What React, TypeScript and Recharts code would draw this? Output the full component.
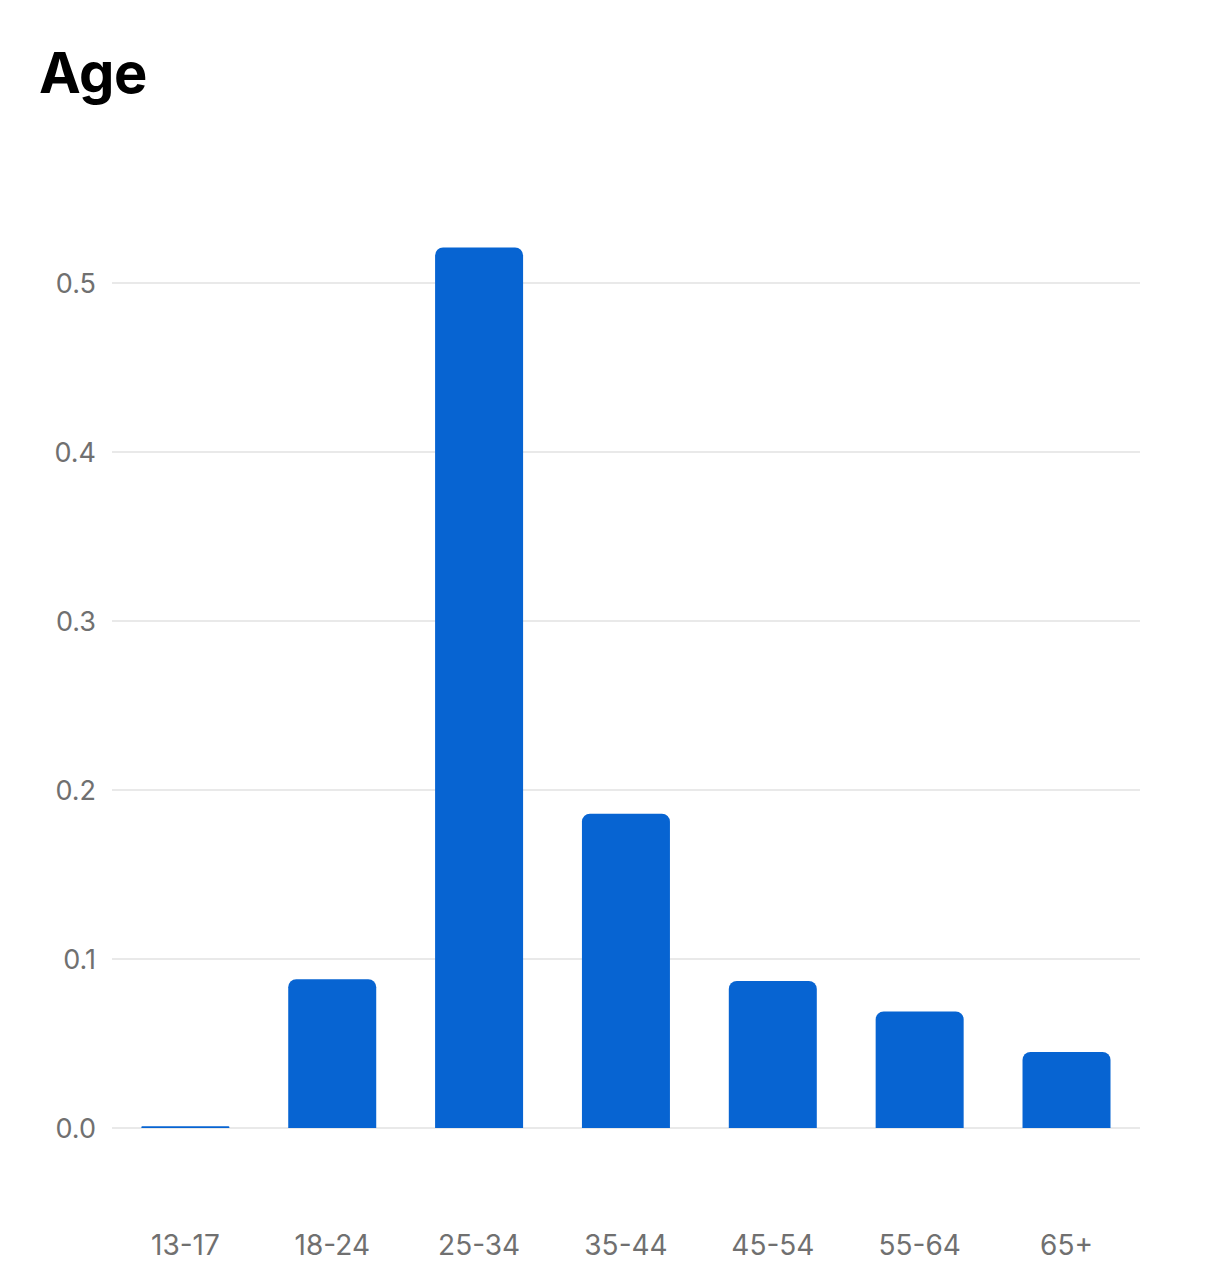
import React from "react";
import { BarChart, Bar, XAxis, YAxis, CartesianGrid } from "recharts";

const ageGroups = ["13-17", "18-24", "25-34", "35-44", "45-54", "55-64", "65+"];
const shares = [0.001, 0.088, 0.521, 0.186, 0.087, 0.069, 0.045];
const yTicks = [0, 0.1, 0.2, 0.3, 0.4, 0.5];

const data = ageGroups.map((group, i) => ({ group, share: shares[i] }));

const font = "Inter, 'Noto Sans', sans-serif";

export default function App() {
  return (
    <div
      style={{
        position: "absolute",
        left: 0,
        top: 0,
        width: 1206,
        height: 1281,
        background: "#fff",
        fontFamily: font,
      }}
    >
      <div
        style={{
          position: "absolute",
          left: 39,
          top: 38,
          fontSize: 56,
          fontWeight: 700,
          color: "#000",
          lineHeight: "70px",
          letterSpacing: -0.5,
        }}
      >
        Age
      </div>
      <div style={{ position: "absolute", left: 0, top: 0 }}>
        <BarChart
          width={1206}
          height={1281}
          data={data}
          margin={{ top: 198.5, right: 66, bottom: 0, left: 0 }}
          barCategoryGap="20%"
        >
          <CartesianGrid
            vertical={false}
            horizontalValues={yTicks}
            stroke="#e2e2e2"
            strokeWidth={1.5}
          />
          <XAxis
            dataKey="group"
            axisLine={false}
            tickLine={false}
            tickMargin={101}
            height={153}
            interval={0}
            tick={{ fill: "#707070", fontSize: 28, fontFamily: font }}
          />
          <YAxis
            domain={[0, 0.55]}
            ticks={yTicks}
            width={112}
            axisLine={false}
            tickLine={false}
            tickMargin={10}
            tickFormatter={(v: number) => v.toFixed(1)}
            tick={{ fill: "#707070", fontSize: 27, fontFamily: font }}
          />
          <Bar
            dataKey="share"
            fill="#0764D2"
            radius={[8, 8, 0, 0]}
            isAnimationActive={false}
          />
        </BarChart>
      </div>
    </div>
  );
}
